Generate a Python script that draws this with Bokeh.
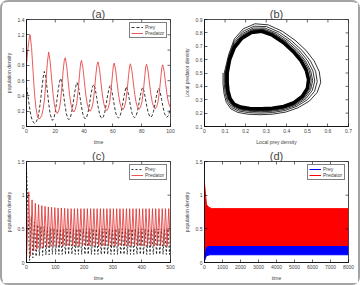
import math
from bokeh.plotting import figure
from bokeh.layouts import gridplot, column
from bokeh.models import (FixedTicker, Legend, LegendItem, Range1d, CustomJSTickFormatter)
from bokeh.embed import file_html
from bokeh.resources import INLINE

FONT = "Liberation Sans"
RED_A = "#e8474a"
BLACK = "#000000"

# ---------------- (a) time series 0..100 ----------------
a_pred_t = [0, 1, 2, 2.5, 3.5, 4.5, 5.5, 6.5, 7.5, 8.5, 9.5, 10.5, 11.5, 12.5, 13.5, 14.5, 15.4,
            16.4, 17.4, 18.4, 19.4, 20.4, 21.4, 22.4, 23.4, 24.4, 25.4, 26.2, 26.9, 27.9, 28.9,
            29.9, 30.9, 31.9, 32.9, 33.9, 34.9, 35.9, 36.9, 37.6, 38.2, 39.2, 40.2, 41.2, 42.2,
            43.2, 44.2, 45.2, 46.2, 47.2, 48.2, 49.0, 49.7, 50.7, 51.7, 52.7, 53.7, 54.7, 55.7,
            56.7, 57.7, 58.7, 59.7, 60.3, 60.9, 61.9, 62.9, 63.9, 64.9, 65.9, 66.9, 67.9, 68.9,
            69.9, 70.9, 71.6, 72.2, 73.2, 74.2, 75.2, 76.2, 77.2, 78.2, 79.2, 80.2, 81.2, 82.2,
            82.8, 83.4, 84.4, 85.4, 86.4, 87.4, 88.4, 89.4, 90.4, 91.4, 92.4, 93.4, 94.0, 94.6,
            95.6, 96.6, 97.6, 98.6, 99.6, 100]
a_pred_v = [0.81, 1.02, 1.17, 1.2, 1.035, 0.74, 0.45, 0.25, 0.144, 0.1, 0.11, 0.14, 0.22, 0.36,
            0.58, 0.84, 0.975, 0.854, 0.637, 0.428, 0.283, 0.202, 0.17, 0.207, 0.294, 0.477,
            0.718, 0.86, 0.9, 0.79, 0.6, 0.417, 0.29, 0.218, 0.19, 0.224, 0.305, 0.473, 0.696,
            0.83, 0.865, 0.765, 0.586, 0.413, 0.293, 0.227, 0.2, 0.232, 0.31, 0.471, 0.684, 0.81,
            0.845, 0.75, 0.578, 0.413, 0.299, 0.235, 0.21, 0.24, 0.315, 0.47, 0.675, 0.79, 0.83,
            0.74, 0.574, 0.415, 0.305, 0.244, 0.22, 0.25, 0.322, 0.472, 0.67, 0.79, 0.82, 0.73,
            0.57, 0.415, 0.308, 0.249, 0.225, 0.255, 0.325, 0.473, 0.67, 0.78, 0.815, 0.727,
            0.569, 0.417, 0.312, 0.253, 0.23, 0.259, 0.328, 0.472, 0.665, 0.775, 0.807, 0.72,
            0.565, 0.415, 0.31, 0.26, 0.245]
a_prey_t = [0, 1, 2, 3, 4, 5, 5.7, 6.7, 7.7, 8.7, 9.7, 10.7, 11.7, 12.4, 13.4, 14.4, 15.4, 16.4,
            17.4, 18.0, 19, 20, 21, 22, 23, 23.7, 24.7, 25.7, 26.7, 27.7, 28.7, 29.4, 30.4, 31.4,
            32.4, 33.4, 34.4, 35.1, 36.1, 37.1, 38.1, 39.1, 40.1, 40.8, 41.8, 42.8, 43.8, 44.8,
            45.8, 46.7, 47.7, 48.7, 49.7, 50.7, 51.7, 52.4, 53.4, 54.4, 55.4, 56.4, 57.4, 58.1,
            59.1, 60.1, 61.1, 62.1, 63.1, 63.8, 64.8, 65.8, 66.8, 67.8, 68.8, 69.3, 70.3, 71.3,
            72.3, 73.3, 74.3, 75.0, 76, 77, 78, 79, 80, 80.6, 81.6, 82.6, 83.6, 84.6, 85.6, 86.2,
            87.2, 88.2, 89.2, 90.2, 91.2, 91.8, 92.8, 93.8, 94.8, 95.8, 96.8, 97.4, 98.4, 99.4, 100]
a_prey_v = [0.52, 0.4, 0.26, 0.15, 0.08, 0.05, 0.04, 0.06, 0.1, 0.19, 0.33, 0.5, 0.66, 0.72,
            0.643, 0.477, 0.304, 0.17, 0.099, 0.08, 0.108, 0.19, 0.328, 0.476, 0.59, 0.63, 0.565,
            0.425, 0.279, 0.166, 0.106, 0.09, 0.114, 0.187, 0.308, 0.439, 0.541, 0.575, 0.518,
            0.395, 0.266, 0.166, 0.114, 0.1, 0.123, 0.19, 0.303, 0.424, 0.519, 0.55, 0.497, 0.381,
            0.261, 0.167, 0.118, 0.105, 0.127, 0.191, 0.299, 0.415, 0.505, 0.535, 0.484, 0.374,
            0.259, 0.17, 0.123, 0.11, 0.13, 0.192, 0.295, 0.405, 0.491, 0.52, 0.471, 0.366, 0.257,
            0.172, 0.127, 0.115, 0.135, 0.194, 0.293, 0.399, 0.482, 0.51, 0.463, 0.362, 0.257,
            0.175, 0.132, 0.12, 0.139, 0.196, 0.291, 0.394, 0.474, 0.5, 0.454, 0.356, 0.253,
            0.173, 0.131, 0.12, 0.139, 0.196, 0.24]
a_xticks = [0, 20, 40, 60, 80, 100]
a_yticks = [0, 0.2, 0.4, 0.6, 0.8, 1, 1.2, 1.4]

# ---------------- (b) phase plane: spiral loops and limit cycle ----------------
b_loops_x = [
    [0.090, 0.090, 0.095, 0.106, 0.128, 0.163, 0.210, 0.268, 0.330, 0.395, 0.455, 0.510,
     0.548, 0.565, 0.558, 0.533, 0.493, 0.440, 0.378, 0.310, 0.245, 0.188, 0.145, 0.118],
    [0.096, 0.096, 0.100, 0.111, 0.132, 0.166, 0.213, 0.270, 0.330, 0.392, 0.449, 0.500,
     0.535, 0.548, 0.540, 0.515, 0.476, 0.424, 0.365, 0.301, 0.240, 0.186, 0.145, 0.119],
    [0.100, 0.100, 0.105, 0.115, 0.136, 0.169, 0.215, 0.272, 0.330, 0.390, 0.445, 0.493,
     0.524, 0.536, 0.527, 0.502, 0.463, 0.412, 0.354, 0.294, 0.237, 0.185, 0.145, 0.120],
    [0.103, 0.103, 0.108, 0.118, 0.138, 0.171, 0.217, 0.273, 0.330, 0.388, 0.442, 0.487,
     0.516, 0.526, 0.516, 0.491, 0.453, 0.402, 0.346, 0.289, 0.234, 0.184, 0.145, 0.121],
    [0.106, 0.106, 0.110, 0.120, 0.140, 0.172, 0.218, 0.274, 0.330, 0.387, 0.439, 0.483,
     0.511, 0.519, 0.509, 0.484, 0.445, 0.396, 0.341, 0.285, 0.232, 0.183, 0.145, 0.121],
]
b_loops_y = [
    [0.500, 0.420, 0.345, 0.280, 0.232, 0.205, 0.192, 0.188, 0.192, 0.208, 0.240, 0.290,
     0.355, 0.430, 0.510, 0.590, 0.670, 0.745, 0.812, 0.860, 0.868, 0.830, 0.755, 0.640],
    [0.500, 0.423, 0.351, 0.288, 0.242, 0.216, 0.204, 0.200, 0.204, 0.220, 0.251, 0.300,
     0.363, 0.436, 0.513, 0.590, 0.667, 0.740, 0.804, 0.847, 0.850, 0.810, 0.737, 0.629],
    [0.500, 0.425, 0.355, 0.295, 0.250, 0.225, 0.214, 0.210, 0.214, 0.229, 0.259, 0.308,
     0.370, 0.440, 0.515, 0.590, 0.665, 0.737, 0.798, 0.836, 0.836, 0.795, 0.723, 0.620],
    [0.500, 0.427, 0.358, 0.300, 0.256, 0.231, 0.220, 0.217, 0.221, 0.236, 0.265, 0.313,
     0.375, 0.443, 0.517, 0.590, 0.663, 0.734, 0.793, 0.828, 0.825, 0.784, 0.712, 0.614],
    [0.500, 0.428, 0.361, 0.303, 0.260, 0.236, 0.226, 0.222, 0.226, 0.241, 0.270, 0.317,
     0.378, 0.446, 0.518, 0.590, 0.662, 0.732, 0.789, 0.823, 0.817, 0.775, 0.704, 0.609],
]
b_limit_x = [0.110, 0.110, 0.114, 0.124, 0.143, 0.175, 0.220, 0.275, 0.330, 0.385, 0.435, 0.475,
             0.500, 0.506, 0.495, 0.470, 0.432, 0.383, 0.330, 0.278, 0.228, 0.182, 0.145, 0.122, 0.110]
b_limit_y = [0.500, 0.430, 0.365, 0.310, 0.268, 0.245, 0.235, 0.232, 0.236, 0.250, 0.278, 0.325,
             0.385, 0.450, 0.520, 0.590, 0.660, 0.728, 0.783, 0.812, 0.803, 0.760, 0.690, 0.600, 0.500]
b_xticks = [0, 0.1, 0.2, 0.3, 0.4, 0.5, 0.6, 0.7]
b_yticks = [0.1, 0.2, 0.3, 0.4, 0.5, 0.6, 0.7, 0.8, 0.9]

# ---------------- (c) time series 0..500 (one entry per oscillation cycle) ----------------
c_peak_t = [8.0, 19.3, 30.6, 41.9, 53.2, 64.5, 75.8, 87.1, 98.4, 109.7, 121.0, 132.3, 143.6,
            154.9, 166.2, 177.5, 188.8, 200.1, 211.4, 222.7, 234.0, 245.3, 256.6, 267.9, 279.2,
            290.5, 301.8, 313.1, 324.4, 335.7, 347.0, 358.3, 369.6, 380.9, 392.2, 403.5, 414.8,
            426.1, 437.4, 448.7, 460.0, 471.3, 482.6, 493.9]
c_pred_peak = [1.05, 0.93, 0.88, 0.86, 0.845, 0.835, 0.825, 0.82, 0.815, 0.81, 0.81, 0.805,
               0.80, 0.80, 0.80, 0.80, 0.80, 0.80, 0.80, 0.80, 0.80, 0.80, 0.80, 0.80, 0.80,
               0.80, 0.80, 0.80, 0.80, 0.80, 0.80, 0.80, 0.80, 0.80, 0.80, 0.80, 0.80, 0.80,
               0.80, 0.80, 0.80, 0.80, 0.80, 0.80]
c_pred_trough = [0.10, 0.17, 0.20, 0.21, 0.22, 0.23, 0.235, 0.24, 0.24, 0.245, 0.245, 0.245,
                 0.245, 0.245, 0.245, 0.245, 0.245, 0.245, 0.245, 0.245, 0.245, 0.245, 0.245,
                 0.245, 0.245, 0.245, 0.245, 0.245, 0.245, 0.245, 0.245, 0.245, 0.245, 0.245,
                 0.245, 0.245, 0.245, 0.245, 0.245, 0.245, 0.245, 0.245, 0.245, 0.245]
c_prey_peak = [0.68, 0.60, 0.56, 0.54, 0.53, 0.52, 0.51, 0.505, 0.50, 0.50, 0.50, 0.50, 0.50,
               0.50, 0.50, 0.50, 0.50, 0.50, 0.50, 0.50, 0.50, 0.50, 0.50, 0.50, 0.50, 0.50,
               0.50, 0.50, 0.50, 0.50, 0.50, 0.50, 0.50, 0.50, 0.50, 0.50, 0.50, 0.50, 0.50,
               0.50, 0.50, 0.50, 0.50, 0.50]
c_prey_trough = [0.03, 0.07, 0.09, 0.10, 0.105, 0.11, 0.115, 0.12, 0.12, 0.12, 0.12, 0.12, 0.12,
                 0.12, 0.12, 0.12, 0.12, 0.12, 0.12, 0.12, 0.12, 0.12, 0.12, 0.12, 0.12, 0.12,
                 0.12, 0.12, 0.12, 0.12, 0.12, 0.12, 0.12, 0.12, 0.12, 0.12, 0.12, 0.12, 0.12,
                 0.12, 0.12, 0.12, 0.12, 0.12]
c_pred_start = 0.02
c_prey_start = 1.4
PRED_TROUGH_LAG = 5.65
PREY_TROUGH_LAG = 2.85
PREY_PEAK_LAG = 8.5
c_xticks = [0, 100, 200, 300, 400, 500]
c_yticks = [0, 0.5, 1, 1.5]

# ---------------- (d) 0..8000: envelopes of the dense oscillation ----------------
d_prey_t = [0, 10, 100, 300, 8000]
d_prey_low = [0.03, 0.03, 0.10, 0.115, 0.115]
d_prey_high = [1.5, 0.70, 0.55, 0.50, 0.50]
d_pred_t = [0, 8, 60, 110, 240, 400, 8000]
d_pred_low = [0.10, 0.10, 0.20, 0.23, 0.245, 0.245, 0.245]
d_pred_high = [1.2, 1.15, 1.0, 0.86, 0.82, 0.80, 0.80]
d_xticks = [0, 1000, 2000, 3000, 4000, 5000, 6000, 7000, 8000]
d_yticks = [0, 0.5, 1, 1.5]

FMT = CustomJSTickFormatter(code="return String(Math.round(tick*1000)/1000);")


def make_fig(w, h, xr, yr, mb, title):
    p = figure(width=w, height=h, x_range=Range1d(*xr), y_range=Range1d(*yr),
               output_backend="svg", toolbar_location=None,
               min_border_left=mb[0], min_border_right=mb[1],
               min_border_top=mb[2], min_border_bottom=mb[3])
    p.title.text = title
    p.title.align = "center"
    p.title.text_font = FONT
    p.title.text_font_size = "11px"
    p.title.text_font_style = "normal"
    p.title.standoff = 0
    p.title.offset = 0
    p.xgrid.visible = False
    p.ygrid.visible = False
    p.outline_line_color = "black"
    p.outline_line_width = 0.7
    p.background_fill_color = "white"
    p.border_fill_color = "white"
    return p


def style_axes(p, xr, yr, xt, yt, xlab, ylab):
    p.xaxis.ticker = FixedTicker(ticks=xt)
    p.yaxis.ticker = FixedTicker(ticks=yt)
    p.xaxis.axis_label = xlab
    p.yaxis.axis_label = ylab
    for ax in list(p.xaxis) + list(p.yaxis):
        ax.formatter = FMT
        ax.major_tick_in = 3
        ax.major_tick_out = 0
        ax.minor_tick_line_color = None
        ax.major_label_text_font = FONT
        ax.major_label_text_font_size = "5px"
        ax.axis_label_text_font = FONT
        ax.axis_label_text_font_size = "5px"
        ax.axis_label_text_font_style = "normal"
        ax.major_label_standoff = 2
        ax.axis_label_standoff = 3
        ax.axis_line_width = 0.7
        ax.major_tick_line_width = 0.6
    # mirrored inward ticks on the top and right frame edges
    p.ray(x=xt, y=[yr[1]] * len(xt), length=3, angle=-math.pi / 2, length_units="screen",
          line_color="black", line_width=0.6)
    p.ray(x=[xr[1]] * len(yt), y=yt, length=3, angle=math.pi, length_units="screen",
          line_color="black", line_width=0.6)


def add_legend(p, items):
    leg = Legend(items=[LegendItem(label=l, renderers=[r]) for l, r in items],
                 location="top_right", label_text_font=FONT, label_text_font_size="5px",
                 glyph_width=12, glyph_height=4, label_height=4, label_standoff=2,
                 spacing=0, padding=1, margin=3, border_line_color="black",
                 border_line_width=0.5, background_fill_alpha=1)
    p.add_layout(leg)


W = 178
H1, H2 = 145, 136

# (a)
AX, AY = (0, 100), (0, 1.4)
pa = make_fig(W, H1, AX, AY, (23, 10, 17, 15), "(a)")
ra1 = pa.line(a_prey_t, a_prey_v, line_color=BLACK, line_width=0.8, line_dash="3 2")
ra2 = pa.line(a_pred_t, a_pred_v, line_color=RED_A, line_width=0.9)
style_axes(pa, AX, AY, a_xticks, a_yticks, "time", "population density")
add_legend(pa, [("Prey", ra1), ("Predator", ra2)])

# (b)
BX, BY = (0, 0.7), (0.1, 0.9)
pb = make_fig(W, H1, BX, BY, (24, 7, 17, 15), "(b)")
traj_x = [v for loop in b_loops_x for v in loop] + b_limit_x
traj_y = [v for loop in b_loops_y for v in loop] + b_limit_y
pb.line(traj_x, traj_y, line_color="black", line_width=0.8)
pb.line(b_limit_x, b_limit_y, line_color="black", line_width=3.6, line_join="round")
style_axes(pb, BX, BY, b_xticks, b_yticks, "Local prey density", "Local predator density")

# (c)
pred_t, pred_v = [0], [c_pred_start]
prey_t, prey_v = [0], [c_prey_start]
for t, pk, tr, qk, qt in zip(c_peak_t, c_pred_peak, c_pred_trough, c_prey_peak, c_prey_trough):
    pred_t += [t, t + PRED_TROUGH_LAG]
    pred_v += [pk, tr]
    prey_t += [t + PREY_TROUGH_LAG, t + PREY_PEAK_LAG]
    prey_v += [qt, qk]
CX, CY = (0, 500), (0, 1.5)
pc = make_fig(W, H2, CX, CY, (23, 10, 12, 11), "(c)")
rc1 = pc.line(prey_t, prey_v, line_color=BLACK, line_width=0.8, line_dash="2 2")
rc2 = pc.line(pred_t, pred_v, line_color="#e03030", line_width=0.9, line_alpha=0.9)
style_axes(pc, CX, CY, c_xticks, c_yticks, "time", "population density")
add_legend(pc, [("Prey", rc1), ("Predator", rc2)])

# (d)
DX, DY = (0, 8000), (0, 1.5)
pd_ = make_fig(W, H2, DX, DY, (24, 10, 12, 11), "(d)")
pd_.varea(x=d_prey_t, y1=d_prey_low, y2=d_prey_high, fill_color="#0000ff")
rd1 = pd_.line(d_prey_t, d_prey_low, line_color="#0000ff", line_width=1)
pd_.varea(x=d_pred_t, y1=d_pred_low, y2=d_pred_high, fill_color="#ff0000")
rd2 = pd_.line(d_pred_t, d_pred_high, line_color="#ff0000", line_width=1)
style_axes(pd_, DX, DY, d_xticks, d_yticks, "time", "population density")
add_legend(pd_, [("Prey", rd1), ("Predator", rd2)])

grid = gridplot([[pa, pb], [pc, pd_]], toolbar_location=None)
layout = column(grid, styles={"border": "2px solid #a3a3a3", "border-radius": "8px",
                              "background": "white"})

open("out.html", "w").write(file_html(layout, INLINE))
